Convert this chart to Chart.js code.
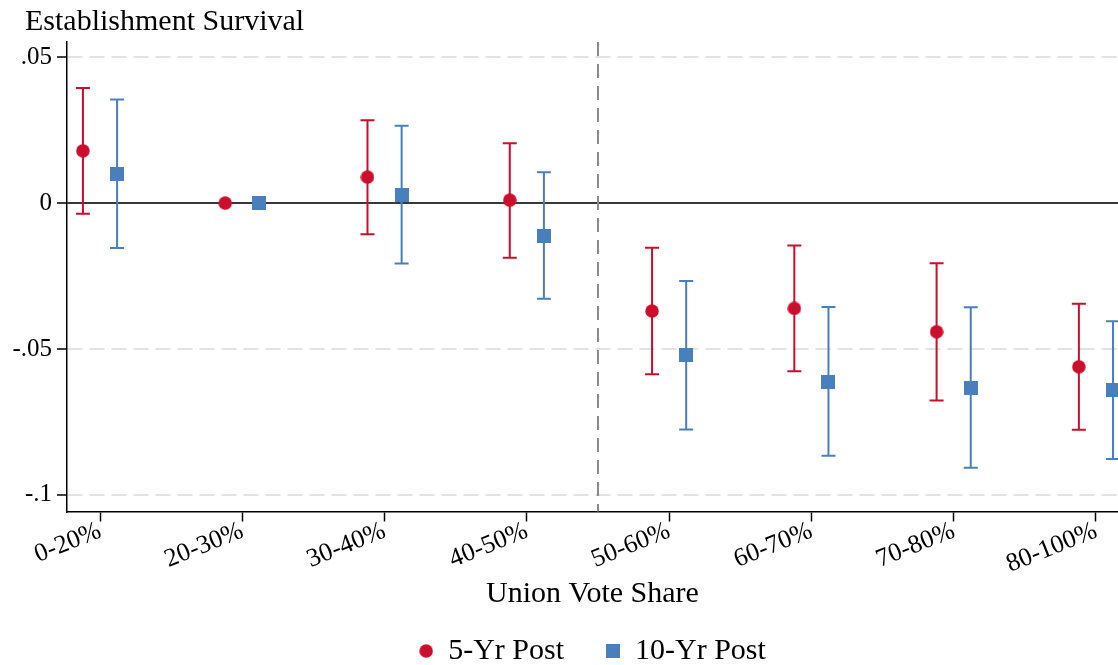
<!DOCTYPE html>
<html>
<head>
<meta charset="utf-8">
<title>Establishment Survival</title>
<script src="https://cdn.jsdelivr.net/npm/chart.js@4.4.1/dist/chart.umd.min.js"></script>
<style>
  html, body { margin: 0; padding: 0; background: #fff; }
  #wrap { width: 1118px; height: 665px; }
</style>
</head>
<body>
<div id="wrap"><canvas id="myChart" width="1118" height="665"></canvas></div>
<script>
const categories = ['0-20%', '20-30%', '30-40%', '40-50%', '50-60%', '60-70%', '70-80%', '80-100%'];

// point estimates and 95% CI bounds; 20-30% is the omitted group
const est5  = [0.0179, 0,  0.0089,  0.0010, -0.0370, -0.0361, -0.0441, -0.0561];
const lo5   = [-0.0037, null, -0.0107, -0.0187, -0.0587, -0.0576, -0.0677, -0.0777];
const hi5   = [0.0394, null,  0.0284,  0.0205, -0.0153, -0.0145, -0.0206, -0.0345];

const est10 = [0.0100, 0,  0.0027, -0.0113, -0.0520, -0.0613, -0.0633, -0.0639];
const lo10  = [-0.0154, null, -0.0207, -0.0328, -0.0776, -0.0866, -0.0907, -0.0877];
const hi10  = [0.0355, null,  0.0265,  0.0106, -0.0267, -0.0356, -0.0357, -0.0405];

const yTicks = [-0.1, -0.05, 0, 0.05];
const cutoff = 4.5;   // between 40-50% and 50-60%
const shift = 0.12;   // horizontal dodge of the two series

const red = '#cb0e2c';
const blue = '#4a7fbd';
const serif = "'Liberation Serif', 'Times New Roman', serif";

function marker(shape, color) {
	const c = document.createElement('canvas');
	c.width = 14;
	c.height = 14;
	const g = c.getContext('2d');
	g.fillStyle = color;
	if (shape === 'circle') {
		g.beginPath();
		g.arc(7, 7, 6.75, 0, Math.PI * 2);
		g.fill();
	} else {
		g.fillRect(0, 0, 14, 14);
	}
	return c;
}

function points(values, dx) {
	return values.map((v, i) => ({ x: i + 1 + dx, y: v }));
}

function fmtTick(v) {
	if (v === 0) return '0';
	return v.toString().replace('0.', '.');
}

// zero line, cutoff line and the CI whiskers
const overlays = {
	id: 'overlays',
	beforeDatasetsDraw(chart) {
		const { ctx, chartArea, scales: { x, y } } = chart;
		ctx.save();

		const y0 = y.getPixelForValue(0);
		ctx.strokeStyle = '#383838';
		ctx.lineWidth = 2;
		ctx.beginPath();
		ctx.moveTo(chartArea.left, y0);
		ctx.lineTo(chartArea.right, y0);
		ctx.stroke();

		const xc = x.getPixelForValue(cutoff);
		ctx.strokeStyle = '#8a8a8a';
		ctx.setLineDash([14, 8]);
		ctx.beginPath();
		ctx.moveTo(xc, chartArea.top);
		ctx.lineTo(xc, chartArea.bottom);
		ctx.stroke();
		ctx.setLineDash([]);

		chart.data.datasets.forEach(ds => {
			ctx.strokeStyle = ds.barColor;
			ctx.lineWidth = 2;
			ds.low.forEach((lo, i) => {
				const hi = ds.high[i];
				if (lo === null || hi === null) return;
				const px = x.getPixelForValue(i + 1 + ds.dodge);
				const pl = y.getPixelForValue(lo);
				const ph = y.getPixelForValue(hi);
				ctx.beginPath();
				ctx.moveTo(px, pl);
				ctx.lineTo(px, ph);
				ctx.moveTo(px - 7, pl);
				ctx.lineTo(px + 7, pl);
				ctx.moveTo(px - 7, ph);
				ctx.lineTo(px + 7, ph);
				ctx.stroke();
			});
		});
		ctx.restore();
	},
	afterDraw(chart) {
		const { ctx, chartArea } = chart;
		ctx.save();
		ctx.fillStyle = '#000';
		ctx.font = '30px ' + serif;
		ctx.textAlign = 'left';
		ctx.textBaseline = 'alphabetic';
		ctx.fillText('Establishment Survival', chartArea.left - 42, chartArea.top - 12);
		ctx.restore();
	}
};

new Chart(document.getElementById('myChart'), {
	type: 'scatter',
	data: {
		datasets: [
			{
				label: '5-Yr Post',
				data: points(est5, -shift),
				low: lo5, high: hi5, dodge: -shift, barColor: red,
				pointStyle: marker('circle', red),
				backgroundColor: red,
				borderColor: red
			},
			{
				label: '10-Yr Post',
				data: points(est10, shift),
				low: lo10, high: hi10, dodge: shift, barColor: blue,
				pointStyle: marker('rect', blue),
				backgroundColor: blue,
				borderColor: blue
			}
		]
	},
	options: {
		responsive: false,
		animation: false,
		events: [],
		// plot runs to the right edge; legend sits low in the canvas
		layout: { autoPadding: false, padding: { top: 42, left: 0, right: 0, bottom: -11 } },
		scales: {
			x: {
				type: 'linear',
				min: 0.768,
				max: 8.155,
				afterBuildTicks: s => { s.ticks = categories.map((c, i) => ({ value: i + 1 })); },
				afterFit: s => {
					s.height = 82.5;
					s.paddingRight = 0;
				},
				ticks: {
					autoSkip: false,
					minRotation: 22,
					maxRotation: 22,
					padding: -6,
					color: '#000',
					font: { family: serif, size: 26 },
					callback: v => categories[Math.round(v) - 1]
				},
				grid: { drawOnChartArea: false, tickColor: '#000', tickLength: 10, tickWidth: 1.5 },
				border: { color: '#000', width: 1.5 },
				title: {
					display: true,
					text: 'Union Vote Share',
					color: '#000',
					font: { family: serif, size: 30 },
					padding: { top: 0, bottom: -17.7 }
				}
			},
			y: {
				min: -0.1057,
				max: 0.0552,
				afterBuildTicks: s => { s.ticks = yTicks.map(v => ({ value: v })); },
				afterFit: s => { s.width = 67; },
				ticks: {
					padding: 5,
					color: '#000',
					font: { family: serif, size: 25 },
					callback: v => fmtTick(v)
				},
				grid: {
					color: c => (c.tick && c.tick.value === 0) ? 'rgba(0,0,0,0)' : '#e2e2e2',
					lineWidth: 2,
					tickColor: '#000',
					tickLength: 10,
					tickWidth: 1.5
				},
				border: { color: '#000', width: 1.5, dash: [15, 7] }
			}
		},
		plugins: {
			legend: {
				position: 'bottom',
				fullSize: false,
				labels: {
					usePointStyle: true,
					pointStyleWidth: 14,
					padding: 42,
					color: '#000',
					font: { family: serif, size: 30 }
				}
			},
			tooltip: { enabled: false }
		}
	},
	plugins: [overlays]
});
</script>
</body>
</html>
